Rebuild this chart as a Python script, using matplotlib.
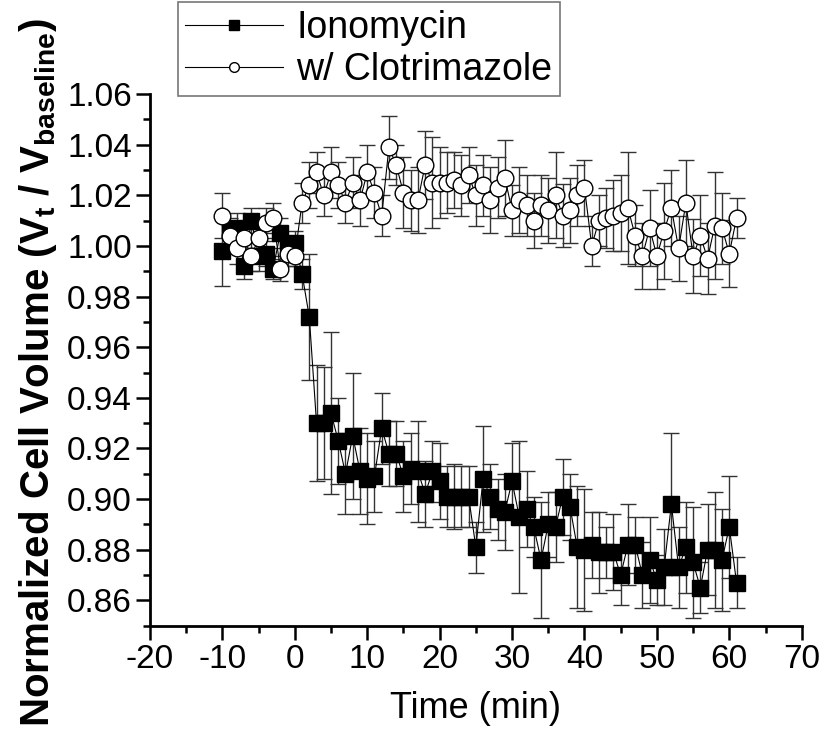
import numpy as np
import matplotlib
matplotlib.use("Agg")
import matplotlib.pyplot as plt
from matplotlib.lines import Line2D

plt.rcParams['font.family'] = ['Liberation Sans', 'DejaVu Sans']
plt.rcParams['mathtext.fontset'] = 'custom'
plt.rcParams['mathtext.rm'] = 'Liberation Sans:bold'
plt.rcParams['mathtext.bf'] = 'Liberation Sans:bold'
plt.rcParams['axes.unicode_minus'] = False

# time points (min)
time = list(range(-10, 62))

# Ionomycin
iono = [0.998, 1.006, 1.007, 0.992, 1.010, 0.996, 0.997, 0.991, 1.005, 0.999,
        1.001, 0.989, 0.972, 0.930, 0.930, 0.934, 0.923, 0.910, 0.925, 0.911,
        0.908, 0.909, 0.928, 0.918, 0.918, 0.909, 0.912, 0.911, 0.902, 0.911,
        0.907, 0.901, 0.901, 0.901, 0.901, 0.881, 0.908, 0.901, 0.896, 0.895,
        0.907, 0.893, 0.896, 0.889, 0.876, 0.890, 0.889, 0.901, 0.897, 0.881,
        0.880, 0.882, 0.879, 0.879, 0.879, 0.870, 0.882, 0.882, 0.870, 0.876,
        0.868, 0.873, 0.898, 0.873, 0.881, 0.875, 0.865, 0.880, 0.880, 0.876,
        0.889, 0.867]
iono_err = [0.014, 0.005, 0.006, 0.005, 0.005, 0.006, 0.005, 0.004, 0.006, 0.004,
            0.005, 0.006, 0.025, 0.023, 0.022, 0.032, 0.017, 0.016, 0.025, 0.017,
            0.018, 0.014, 0.014, 0.013, 0.013, 0.014, 0.014, 0.020, 0.013, 0.012,
            0.015, 0.012, 0.013, 0.012, 0.012, 0.010, 0.021, 0.013, 0.012, 0.015,
            0.015, 0.030, 0.015, 0.012, 0.023, 0.013, 0.014, 0.015, 0.013, 0.024,
            0.024, 0.013, 0.016, 0.010, 0.015, 0.012, 0.016, 0.011, 0.013, 0.017,
            0.010, 0.015, 0.028, 0.016, 0.018, 0.022, 0.010, 0.018, 0.023, 0.020,
            0.020, 0.010]

# w/ Clotrimazole
clot = [1.012, 1.004, 0.999, 1.003, 0.996, 1.003, 1.009, 1.011, 0.991, 0.997,
        0.996, 1.017, 1.024, 1.029, 1.020, 1.029, 1.024, 1.017, 1.025, 1.018,
        1.029, 1.021, 1.012, 1.039, 1.032, 1.021, 1.018, 1.018, 1.032, 1.025,
        1.025, 1.025, 1.026, 1.024, 1.028, 1.020, 1.024, 1.018, 1.023, 1.027,
        1.014, 1.018, 1.016, 1.010, 1.016, 1.014, 1.020, 1.012, 1.014, 1.020,
        1.023, 1.000, 1.010, 1.011, 1.012, 1.013, 1.015, 1.004, 0.996, 1.007,
        0.996, 1.006, 1.015, 0.999, 1.017, 0.996, 1.004, 0.995, 1.008, 1.007,
        0.997, 1.011]
clot_err = [0.009, 0.006, 0.006, 0.005, 0.006, 0.006, 0.006, 0.006, 0.005, 0.005,
            0.004, 0.008, 0.009, 0.008, 0.008, 0.010, 0.009, 0.008, 0.010, 0.010,
            0.011, 0.010, 0.008, 0.0125, 0.008, 0.014, 0.012, 0.013, 0.0135, 0.018,
            0.014, 0.012, 0.011, 0.012, 0.011, 0.012, 0.012, 0.013, 0.012, 0.015,
            0.010, 0.013, 0.012, 0.011, 0.012, 0.013, 0.017, 0.0125, 0.013, 0.012,
            0.011, 0.008, 0.010, 0.012, 0.014, 0.015, 0.022, 0.012, 0.013, 0.015,
            0.013, 0.019, 0.015, 0.013, 0.017, 0.0145, 0.016, 0.014, 0.021, 0.014,
            0.0133, 0.008]

fig = plt.figure(figsize=(8.2, 7.35), dpi=100)
ax = fig.add_axes([0.1829, 0.1487, 0.7948, 0.7234])

ax.errorbar(time, iono, yerr=iono_err, fmt='s-', color='black', mfc='black',
            mec='black', ms=12, lw=0.8, elinewidth=1.0, ecolor='#333333',
            capsize=5.5, capthick=1.0)
ax.errorbar(time, clot, yerr=clot_err, fmt='o-', color='black', mfc='white',
            mec='black', ms=12, mew=1.0, lw=0.8, elinewidth=1.0, ecolor='#333333',
            capsize=5.5, capthick=1.0)

ax.set_xlim(-20, 70)
ax.set_ylim(0.85, 1.06)
ax.set_xticks(np.arange(-20, 71, 10))
ax.set_xticks(np.arange(-15, 70, 10), minor=True)
ax.set_yticks(np.arange(0.86, 1.061, 0.02))
ax.set_yticks(np.arange(0.85, 1.06, 0.02), minor=True)
ax.yaxis.set_major_formatter(matplotlib.ticker.FormatStrFormatter('%.2f'))

for s in ['top', 'right']:
    ax.spines[s].set_visible(False)
for s in ['left', 'bottom']:
    ax.spines[s].set_linewidth(2.0)

ax.tick_params(which='major', direction='out', length=10, width=1.8,
               labelsize=24, pad=3)
ax.tick_params(which='minor', direction='out', length=5, width=1.8)

ax.set_xlabel('Time (min)', fontsize=26, labelpad=12)
ax.set_ylabel(r'Normalized Cell Volume (V$_\mathbf{t}$ / V$_\mathbf{baseline}$)',
              fontsize=29, fontweight='bold')
ax.yaxis.set_label_coords(-0.14, 0.477)

# legend handles without error bars
handles = [Line2D([], [], color='black', lw=0.8, marker='s', ms=7,
                  mfc='black', mec='black'),
           Line2D([], [], color='black', lw=0.8, marker='o', ms=7,
                  mfc='white', mec='black')]
leg = fig.legend(handles, ['Ionomycin', 'w/ Clotrimazole'], loc='upper left',
                 bbox_to_anchor=(0.217, 0.997), fontsize=27, frameon=True,
                 fancybox=False, handlelength=2.6, handletextpad=0.35,
                 labelspacing=0.18, borderpad=0.2, borderaxespad=0)
leg.get_frame().set_edgecolor('#555555')
leg.get_frame().set_linewidth(1.2)

fig.savefig('out.png', dpi=100)
